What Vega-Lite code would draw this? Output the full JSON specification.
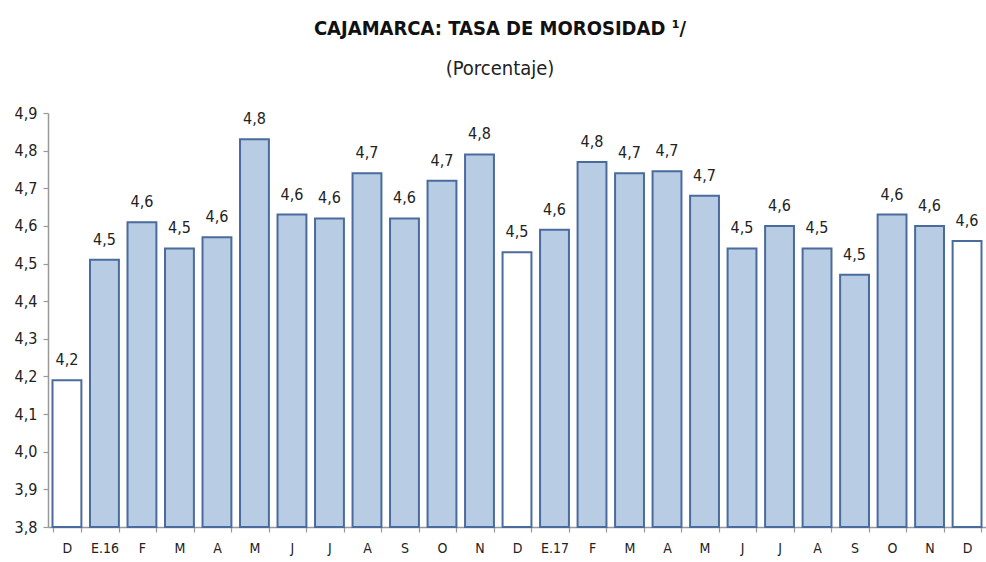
{
  "$schema": "https://vega.github.io/schema/vega-lite/v6.json",
  "autosize": "none",
  "width": 938,
  "height": 414,
  "padding": {"left": 48, "top": 113, "right": 0, "bottom": 35},
  "background": "white",
  "config": {
    "locale": {"number": {"decimal": ",", "thousands": ".", "grouping": [3], "currency": ["", ""]}},
    "view": {"stroke": null},
    "font": "DejaVu Sans Condensed"
  },
  "title": {
    "text": "CAJAMARCA: TASA DE MOROSIDAD ¹/",
    "subtitle": "(Porcentaje)",
    "anchor": "middle",
    "frame": "group",
    "font": "DejaVu Sans Condensed",
    "fontSize": 20,
    "fontWeight": "bold",
    "color": "#111111",
    "subtitleFont": "DejaVu Sans Condensed",
    "subtitleFontSize": 20,
    "subtitleColor": "#222222",
    "subtitlePadding": 20,
    "offset": 26,
    "dx": -17
  },
  "data": {
    "values": [
      {"k": "D_1", "v": 4.19, "t": "dic"},
      {"k": "E.16_2", "v": 4.51, "t": "mes"},
      {"k": "F_3", "v": 4.61, "t": "mes"},
      {"k": "M_4", "v": 4.54, "t": "mes"},
      {"k": "A_5", "v": 4.57, "t": "mes"},
      {"k": "M_6", "v": 4.83, "t": "mes"},
      {"k": "J_7", "v": 4.63, "t": "mes"},
      {"k": "J_8", "v": 4.62, "t": "mes"},
      {"k": "A_9", "v": 4.74, "t": "mes"},
      {"k": "S_10", "v": 4.62, "t": "mes"},
      {"k": "O_11", "v": 4.72, "t": "mes"},
      {"k": "N_12", "v": 4.79, "t": "mes"},
      {"k": "D_13", "v": 4.53, "t": "dic"},
      {"k": "E.17_14", "v": 4.59, "t": "mes"},
      {"k": "F_15", "v": 4.77, "t": "mes"},
      {"k": "M_16", "v": 4.74, "t": "mes"},
      {"k": "A_17", "v": 4.745, "t": "mes"},
      {"k": "M_18", "v": 4.68, "t": "mes"},
      {"k": "J_19", "v": 4.54, "t": "mes"},
      {"k": "J_20", "v": 4.6, "t": "mes"},
      {"k": "A_21", "v": 4.54, "t": "mes"},
      {"k": "S_22", "v": 4.47, "t": "mes"},
      {"k": "O_23", "v": 4.63, "t": "mes"},
      {"k": "N_24", "v": 4.6, "t": "mes"},
      {"k": "D_25", "v": 4.56, "t": "dic"}
    ]
  },
  "encoding": {
    "x": {
      "field": "k",
      "type": "ordinal",
      "sort": null,
      "scale": {"paddingInner": 0.23, "paddingOuter": 0.12},
      "axis": {
        "title": null,
        "labelAngle": 0,
        "labelExpr": "replace(datum.label, /_.*$/, '')",
        "labelFontSize": 14,
        "labelColor": "#222222",
        "labelPadding": 9,
        "domainColor": "#999999",
        "domainWidth": 1.5,
        "tickColor": "#999999",
        "tickSize": 5,
        "tickBand": "extent",
        "tickWidth": 1.2
      }
    },
    "y": {
      "field": "v",
      "type": "quantitative",
      "scale": {"domain": [3.8, 4.9], "nice": false, "zero": false},
      "axis": {
        "title": null,
        "values": [3.8, 3.9, 4.0, 4.1, 4.2, 4.3, 4.4, 4.5, 4.6, 4.7, 4.8, 4.9],
        "format": ".1f",
        "grid": false,
        "labelFontSize": 16,
        "labelColor": "#222222",
        "labelPadding": 6,
        "domainColor": "#999999",
        "domainWidth": 1.5,
        "tickColor": "#999999",
        "tickSize": 5,
        "tickWidth": 1.2
      }
    }
  },
  "layer": [
    {
      "mark": {"type": "bar", "stroke": "#4a6b9d", "strokeWidth": 2},
      "encoding": {
        "y2": {"datum": 3.8},
        "fill": {
          "field": "t",
          "type": "nominal",
          "scale": {"domain": ["dic", "mes"], "range": ["#ffffff", "#b8cce4"]},
          "legend": null
        }
      }
    },
    {
      "mark": {"type": "text", "dy": -20, "fontSize": 16, "color": "#222222"},
      "encoding": {
        "text": {"field": "v", "type": "quantitative", "format": ".1f"}
      }
    }
  ]
}
